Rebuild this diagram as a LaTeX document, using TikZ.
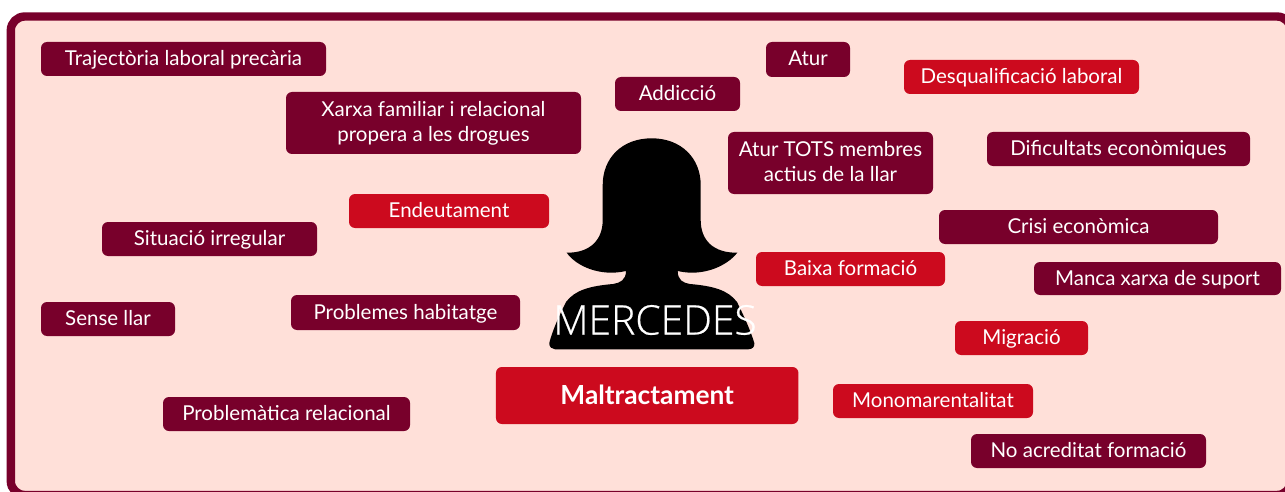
\documentclass[tikz,border=0pt]{standalone}
\usepackage{fontspec}
\setmainfont{Lato}
\newfontfamily\lightfont[FakeBold=0.5]{Open Sans Light}
\definecolor{framewine}{HTML}{78002B}
\definecolor{boxred}{HTML}{CC0A1E}
\definecolor{panelpink}{HTML}{FFE0D9}
\tikzset{
  winebox/.style={fill=framewine,text=white,rounded corners=6pt,inner sep=0pt,align=center,text height=18pt,text depth=5pt,font=\fontsize{20.5}{25}\selectfont},
  twolines/.style={text height=,text depth=},
  redbox/.style={winebox,fill=boxred},
}
\begin{document}
\begin{tikzpicture}[x=1pt,y=-1pt]
                \useasboundingbox (0,0) rectangle (1285,492);
                \clip (0,0) rectangle (1285,492);
                \draw[framewine,fill=panelpink,line width=8.4pt,rounded corners=14pt] (10.8,16.5) rectangle (1291,495);
                \fill (651.7,138.3) .. controls (622,138.3) and (602.7,158) .. (602.7,185) -- (602.7,220) .. controls (602.7,240) and (590,253) .. (566.7,252.7) .. controls (576,266) and (600,277) .. (626,271) .. controls (626,280) and (620,283) .. (613,284) .. controls (590,286) and (575,290) .. (566,302) .. controls (558,318) and (552,332) .. (549.3,343) .. controls (549,347) and (552,349.3) .. (555,349.3) -- (748.3,349.3) .. controls (752,349.3) and (755,347) .. (754.3,343) .. controls (751,332) and (745,318) .. (737,302) .. controls (728,290) and (713,286) .. (690,284) .. controls (683,283) and (677.7,280) .. (677.7,271) .. controls (703,277) and (727,266) .. (737.3,252.7) .. controls (713,253) and (700.7,240) .. (700.7,220) -- (700.7,185) .. controls (700.7,158) and (681,138.3) .. (651.7,138.3) -- cycle;
                \node[text=white,inner sep=0pt,font=\lightfont\fontsize{40.8}{41}\selectfont] (mercedes) at (655,320) {MERCEDES};
                \node[winebox,minimum width=285pt,minimum height=34pt] (trajectoria) at (183.5,59) {Trajectòria laboral precària};
                \node[winebox,twolines,minimum width=295pt,minimum height=62pt] (xarxa) at (433.5,123) {Xarxa familiar i relacional\\propera a les drogues};
                \node[winebox,minimum width=125pt,minimum height=34pt] (addiccio) at (677.5,94) {Addicció};
                \node[winebox,minimum width=84pt,minimum height=35pt] (atur) at (808,59.5) {Atur};
                \node[redbox,minimum width=235pt,minimum height=34pt] (desqualificacio) at (1021.5,77) {Desqualificació laboral};
                \node[winebox,twolines,minimum width=205pt,minimum height=62pt] (aturtots) at (830.5,163) {Atur TOTS membres\\actius de la llar\vphantom{g}};
                \node[winebox,minimum width=263pt,minimum height=34pt] (dificultats) at (1118.5,149) {Dificultats econòmiques};
                \node[redbox,minimum width=200pt,minimum height=34pt] (endeutament) at (449,211) {Endeutament};
                \node[winebox,minimum width=215pt,minimum height=34pt] (situacio) at (209.5,239) {Situació irregular};
                \node[winebox,minimum width=279pt,minimum height=34pt] (crisi) at (1078.5,227) {Crisi econòmica};
                \node[redbox,minimum width=189pt,minimum height=34pt] (baixa) at (850.5,269) {Baixa formació};
                \node[winebox,minimum width=247pt,minimum height=33pt] (manca) at (1157.5,278.5) {Manca xarxa de suport};
                \node[winebox,minimum width=134pt,minimum height=34pt] (senseLlar) at (108,319) {Sense llar};
                \node[winebox,minimum width=229pt,minimum height=35pt] (problemes) at (405.5,312.5) {Problemes habitatge};
                \node[redbox,minimum width=133pt,minimum height=34pt] (migracio) at (1021.5,338) {Migració};
                \node[redbox,minimum width=302.5pt,minimum height=57pt,text height=22pt,text depth=5pt,font=\fontsize{26.3}{30}\selectfont\bfseries] (maltractament) at (647.2,395.5) {Maltractament};
                \node[redbox,minimum width=200pt,minimum height=34pt] (monomarentalitat) at (933,401) {Monomarentalitat};
                \node[winebox,minimum width=247pt,minimum height=34pt] (problematica) at (286.5,414) {Problemàtica relacional};
                \node[winebox,minimum width=235pt,minimum height=34pt] (noacreditat) at (1088.5,451) {No acreditat formació};
            \end{tikzpicture}
\end{document}
